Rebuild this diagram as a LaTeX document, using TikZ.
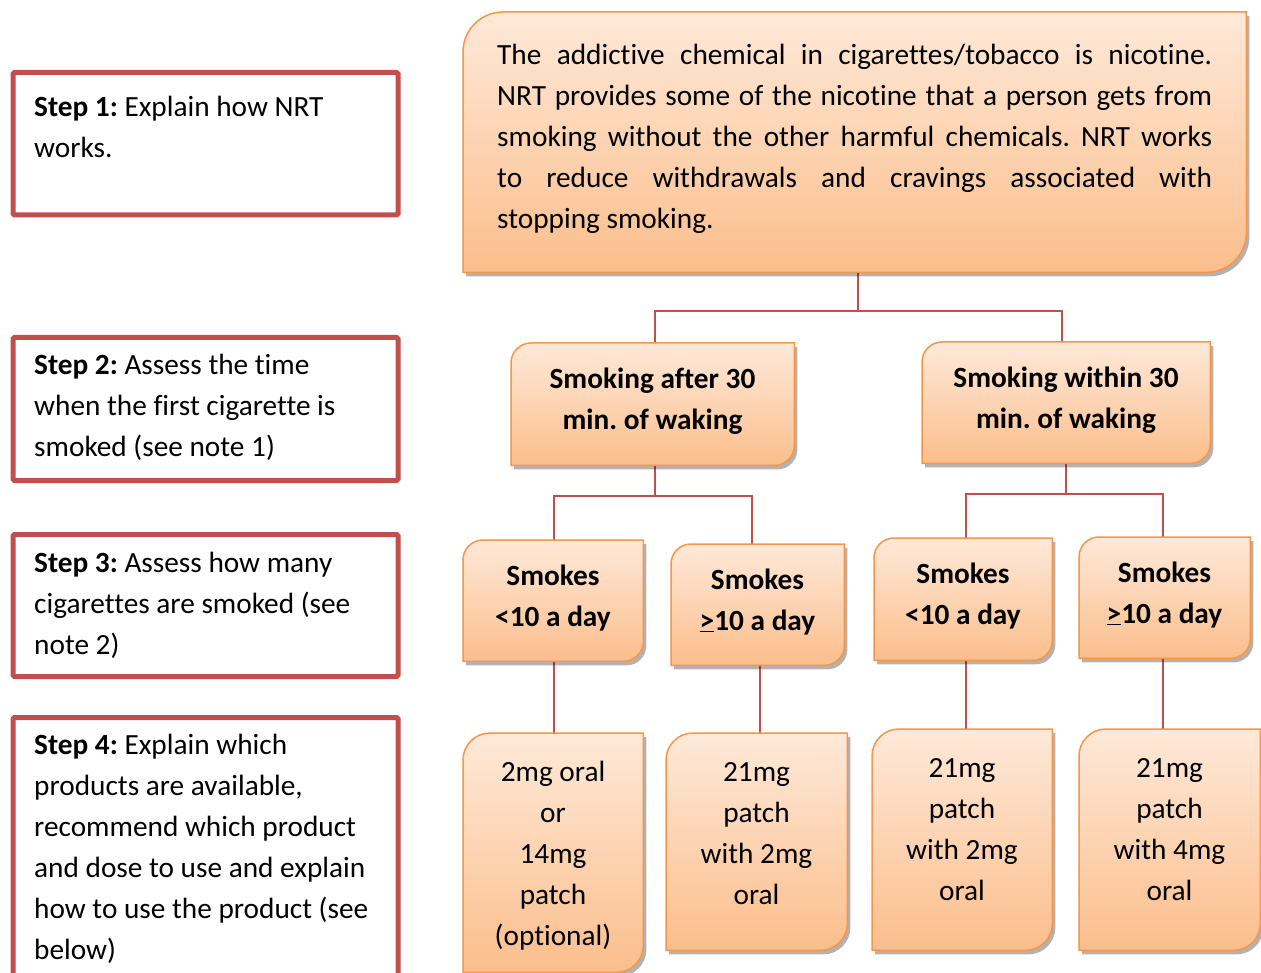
\documentclass[tikz,border=0pt]{standalone}
\usepackage{fontspec}
\setmainfont{Carlito}[Ligatures=NoCommon]
\usetikzlibrary{shadows}
\frenchspacing
\definecolor{stepred}{RGB}{192,80,77}
\definecolor{oborder}{RGB}{247,150,70}
\definecolor{otop}{RGB}{254,233,217}
\definecolor{obot}{RGB}{251,190,140}
\definecolor{conncol}{RGB}{192,80,77}
\newcommand\fs{\fontsize{29.3}{41}\selectfont}
\newcommand\fl{\rule{0pt}{30pt}}
\newcommand\oshape[2]{\path[ofill] (#1.south west) -- ([yshift=-#2pt]#1.north west) arc[start angle=180,end angle=90,radius=#2pt] -- (#1.north east) -- ([yshift=#2pt]#1.south east) arc[start angle=0,end angle=-90,radius=#2pt] -- cycle;}
\tikzset{
  x=1pt, y=1pt,
  stepbox/.style={draw=stepred, line width=5pt, fill=white, rounded corners=1.5pt, anchor=north west, inner sep=0pt},
  txt/.style={inner sep=0pt, font=\fs},
  ctxt/.style={txt, anchor=north, align=center},
  btxt/.style={ctxt, font=\fs\bfseries},
  ltxt/.style={txt, anchor=north west, align=left},
  obox/.style={inner sep=0pt, anchor=north west},
  ofill/.style={draw=oborder, line width=1.5pt, top color=otop, bottom color=obot,
    drop shadow={shadow xshift=3pt, shadow yshift=-4pt, opacity=0.3, fill=black}},
  conn/.style={draw=conncol, line width=2pt},
}
\begin{document}
\begin{tikzpicture}
\useasboundingbox[fill=white] (0,0) rectangle (1261,-973);
% step boxes
\node[stepbox, minimum width=385pt, minimum height=142.5pt] (s1) at (10.5,-70) {};
\node[stepbox, minimum width=385pt, minimum height=143pt] (s2) at (10.5,-335) {};
\node[stepbox, minimum width=385pt, minimum height=142pt] (s3) at (10.5,-532) {};
\node[stepbox, minimum width=385pt, minimum height=300pt] (s4) at (10.5,-715) {};
\node[ltxt] (s1t) at (34,-86) {\fl\textbf{Step 1:} Explain how NRT\\works.};
\node[ltxt] (s2t) at (34,-344) {\fl\textbf{Step 2:} Assess the time\\when the first cigarette is\\smoked (see note 1)};
\node[ltxt] (s3t) at (34,-542) {\fl\textbf{Step 3:} Assess how many\\cigarettes are smoked (see\\note 2)};
\node[ltxt] (s4t) at (34,-724) {\fl\textbf{Step 4:} Explain which\\products are available,\\recommend which product\\and dose to use and explain\\how to use the product (see\\below)};
% orange box frames
\node[obox, minimum width=783pt, minimum height=260pt] (top) at (463,-12) {};
\node[obox, minimum width=283pt, minimum height=122pt] (A) at (511,-343) {};
\node[obox, minimum width=288pt, minimum height=121pt] (B) at (922,-342) {};
\node[obox, minimum width=180pt, minimum height=121pt] (C1) at (463,-540) {};
\node[obox, minimum width=173pt, minimum height=121pt] (C2) at (671,-544) {};
\node[obox, minimum width=178pt, minimum height=122pt] (C3) at (874,-538) {};
\node[obox, minimum width=171pt, minimum height=121pt] (C4) at (1079,-537) {};
\node[obox, minimum width=180pt, minimum height=239pt] (D1) at (463,-733) {};
\node[obox, minimum width=181pt, minimum height=217pt] (D2) at (666,-733) {};
\node[obox, minimum width=180pt, minimum height=221pt] (D3) at (872,-729) {};
\node[obox, minimum width=181pt, minimum height=221pt] (D4) at (1079,-729) {};
% connectors
\coordinate (j1) at (858,-311);
\draw[conn] (top.south -| j1) -- (j1);
\draw[conn] (j1) -| ([xshift=2.5pt]A.north);
\draw[conn] (j1) -| ([xshift=-4pt]B.north);
\coordinate (j2) at (655,-496);
\draw[conn] (A.south -| j2) -- (j2);
\draw[conn] (j2) -| ([xshift=1pt]C1.north);
\draw[conn] (j2) -| ([xshift=-5.5pt]C2.north);
\coordinate (j3) at (1066,-494);
\draw[conn] (B.south -| j3) -- (j3);
\draw[conn] (j3) -| ([xshift=3pt]C3.north);
\draw[conn] (j3) -| ([xshift=-1.5pt]C4.north);
\draw[conn] (C1.south) ++(1pt,0) coordinate (t1) -- (t1 |- D1.north);
\draw[conn] (C2.south) ++(2.5pt,0) coordinate (t2) -- (t2 |- D2.north);
\draw[conn] (C3.south) ++(3pt,0) coordinate (t3) -- (t3 |- D3.north);
\draw[conn] (C4.south) ++(-1.5pt,0) coordinate (t4) -- (t4 |- D4.north);
% orange shapes
\oshape{top}{40}
\oshape{A}{20}
\oshape{B}{20}
\oshape{C1}{20}
\oshape{C2}{20}
\oshape{C3}{20}
\oshape{C4}{20}
\oshape{D1}{27}
\oshape{D2}{27}
\oshape{D3}{27}
\oshape{D4}{27}
% texts
\node[txt, anchor=north west] (topt) at (497,-34) {\parbox[t]{715pt}{\fs\frenchspacing\emergencystretch=3em\fl The addictive chemical in cigarettes/tobacco is nicotine.\linebreak NRT provides some of the nicotine that a person gets from\linebreak smoking without the other harmful chemicals. NRT works\linebreak to reduce withdrawals and cravings associated with\linebreak stopping smoking.}};
\node[btxt] (At) at (652.5,-358) {\fl Smoking after 30\\min. of waking};
\node[btxt] (Bt) at (1066,-357) {\fl Smoking within 30\\min. of waking};
\node[btxt] (C1t) at (553,-555) {\fl Smokes\\<10 a day};
\node[btxt] (C2t) at (757.5,-559) {\fl Smokes\\\underline{>}10 a day};
\node[btxt] (C3t) at (963,-553) {\fl Smokes\\<10 a day};
\node[btxt] (C4t) at (1164.5,-552) {\fl Smokes\\\underline{>}10 a day};
\node[ctxt] (D1t) at (553,-751) {\fl 2mg oral\\or\\14mg\\patch\\(optional)};
\node[ctxt] (D2t) at (756.5,-751) {\fl 21mg\\patch\\with 2mg\\oral};
\node[ctxt] (D3t) at (962,-747) {\fl 21mg\\patch\\with 2mg\\oral};
\node[ctxt] (D4t) at (1169.5,-747) {\fl 21mg\\patch\\with 4mg\\oral};
\end{tikzpicture}
\end{document}
